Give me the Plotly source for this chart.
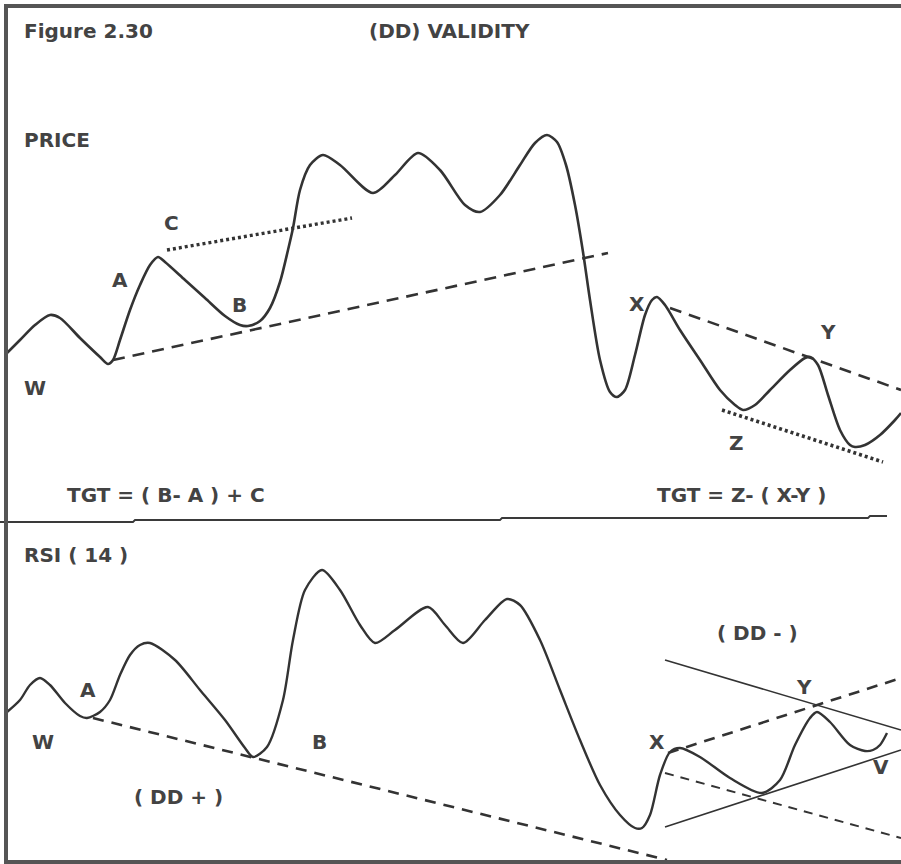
import plotly.graph_objects as go

# ---------------- data (schematic; x = time, y = screen level) ----
price_x = [7, 20, 35, 50, 60, 80, 100, 108, 113, 120, 130, 140, 150, 158, 165, 185, 205, 225, 240, 248,
           260, 270, 280, 288, 293, 300, 310, 323, 340, 373, 395, 418, 440, 465, 480, 500, 520, 535, 547,
           557, 566, 575, 583, 590, 600, 610, 617, 625, 635, 645, 652, 657, 665, 680, 700, 720, 735,
           743, 755, 770, 790, 805, 810, 818, 828, 840, 850, 855, 865, 880, 895, 901]
price_y = [353, 340, 325, 315, 318, 338, 357, 364, 360, 340, 310, 285, 265, 257, 262, 280, 298, 316, 325, 326,
           321, 308, 282, 250, 228, 190, 165, 155, 165, 193, 175, 153, 170, 205, 212, 195, 165, 143, 135,
           142, 165, 205, 252, 300, 360, 392, 397, 390, 355, 315, 300, 297, 305, 330, 360, 390, 405,
           410, 405, 390, 370, 358, 357, 365, 395, 430, 445, 447, 445, 435, 420, 413]

rsi_x = [7, 20, 30, 40, 50, 65, 80, 87, 100, 110, 120, 130, 140, 150, 175, 200, 225, 245, 253,
         267, 283, 293, 305, 322, 340, 360, 375, 395, 428, 445, 463, 485, 507, 520, 540, 560, 580,
         600, 620, 635, 642, 650, 660, 670, 680, 700, 730, 762, 780, 795, 810, 817, 830, 850, 865,
         873, 880, 887]
rsi_y = [712, 700, 685, 678, 685, 703, 716, 718, 712, 700, 675, 655, 645, 643, 660, 690, 720, 748, 757,
         747, 700, 640, 590, 570, 590, 625, 643, 630, 607, 625, 643, 620, 599, 605, 640, 690, 740,
         785, 815, 828, 828, 815, 775, 752, 748, 757, 778, 793, 780, 745, 718, 712, 722, 745, 751,
         750, 745, 733]

# trend / channel lines: (x0, x1), (y0, y1)
price_dash_up = ([113, 608], [360, 253])
price_dot_c = ([167, 352], [250, 218])
price_dash_down = ([670, 901], [308, 390])
price_dot_z = ([722, 883], [410, 462])
rsi_dash_dd_plus = ([93, 667], [718, 860])
rsi_thin_top = ([665, 901], [660, 730])
rsi_dash_x_up = ([668, 901], [753, 678])
rsi_dash_x_down = ([665, 901], [773, 838])
rsi_thin_bottom = ([665, 901], [827, 750])
divider_x = [0, 133, 135, 500, 502, 868, 870, 887]
divider_y = [522, 522, 520, 520, 518, 518, 516, 516]

labels = [
    ("Figure 2.30", 22, 31), ("(DD) VALIDITY", 367, 31), ("PRICE", 22, 140),
    ("C", 162, 223), ("A", 110, 280), ("B", 230, 305), ("W", 22, 388),
    ("X", 627, 304), ("Y", 818, 332), ("Z", 727, 443),
    ("TGT = ( B- A ) + C", 65, 495), ("TGT = Z- ( X-Y )", 655, 495),
    ("RSI ( 14 )", 22, 555), ("A", 78, 690), ("W", 30, 742), ("B", 310, 742),
    ("( DD + )", 132, 797), ("( DD - )", 715, 633), ("X", 647, 742), ("Y", 794, 687),
    ("V", 871, 767),
]

LINE = "#333333"
TEXT = "#434343"

fig = go.Figure()

def add_line(xs, ys, width=2.2, dash="solid", color=LINE, shape="linear"):
    fig.add_trace(go.Scatter(x=xs, y=ys, mode="lines", hoverinfo="skip", showlegend=False,
                             line=dict(color=color, width=width, dash=dash, shape=shape,
                                       smoothing=0.8)))

add_line(price_x, price_y, width=2.6, shape="spline")
add_line(rsi_x, rsi_y, width=2.4, shape="spline")
add_line(*price_dash_up, width=2.6, dash="12px,8px")
add_line(*price_dot_c, width=3.4, dash="3px,3px")
add_line(*price_dash_down, width=2.6, dash="12px,8px")
add_line(*price_dot_z, width=3.6, dash="3px,3px")
add_line(*rsi_dash_dd_plus, width=2.6, dash="11px,8px")
add_line(*rsi_thin_top, width=1.6)
add_line(*rsi_dash_x_up, width=2.6, dash="11px,8px")
add_line(*rsi_dash_x_down, width=2.0, dash="9px,7px")
add_line(*rsi_thin_bottom, width=1.6)
add_line(divider_x, divider_y, width=1.8, color="#3a3a3a")

# frame: left, top, bottom
add_line([6, 6], [4, 864], width=4, color="#555555")
add_line([4, 901], [6, 6], width=4, color="#555555")
add_line([4, 901], [862, 862], width=4, color="#555555")

for txt, x, y in labels:
    fig.add_annotation(x=x, y=y, text=txt, showarrow=False, xanchor="left", yanchor="middle",
                       font=dict(family="DejaVu Sans, sans-serif", size=20,
                                 color=TEXT, weight="bold"))

fig.update_layout(
    width=901, height=864, margin=dict(l=0, r=0, t=0, b=0),
    paper_bgcolor="white", plot_bgcolor="white", showlegend=False,
    xaxis=dict(range=[0, 901], visible=False, fixedrange=True),
    yaxis=dict(range=[864, 0], visible=False, fixedrange=True),
)

fig.write_html("out.html", config={"displayModeBar": False, "staticPlot": True},
               post_script="document.body.style.margin='0';document.body.style.overflow='hidden';")
